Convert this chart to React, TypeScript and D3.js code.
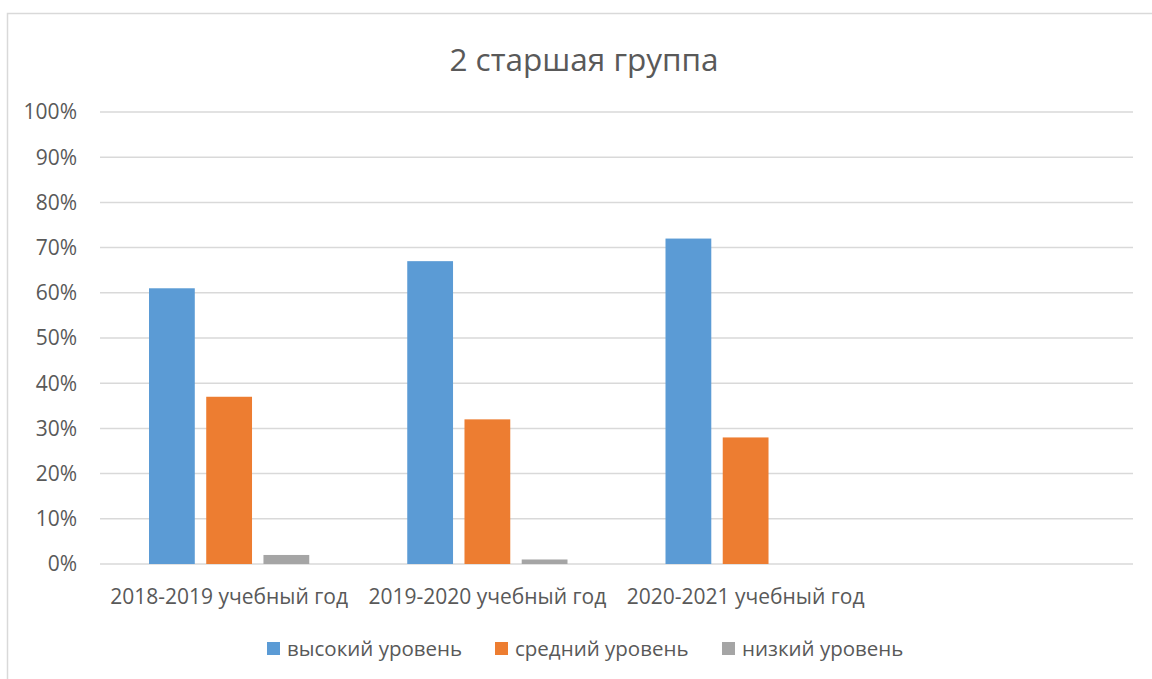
import React, { useEffect, useRef } from 'react';
import * as d3 from 'd3';

const categories = ['2018-2019 учебный год', '2019-2020 учебный год', '2020-2021 учебный год', ''];
const seriesNames = ['высокий уровень', 'средний уровень', 'низкий уровень'];
const highLevel = [61, 67, 72, null];
const midLevel = [37, 32, 28, null];
const lowLevel = [2, 1, 0, null];
const yTicks = [0, 10, 20, 30, 40, 50, 60, 70, 80, 90, 100];
const colors = ['#5b9bd5', '#ed7d31', '#a5a5a5'];

const App = () => {
  const svgRef = useRef<SVGSVGElement>(null);

  useEffect(() => {
    document.body.style.margin = '0';

    const width = 1152;
    const height = 679;
    const margin = { top: 112, right: 19, bottom: 115, left: 100 };
    const font = '"Open Sans", sans-serif';
    const textColor = '#595959';
    const gridColor = '#d9d9d9';

    const svg = d3.select(svgRef.current);
    svg.selectAll('*').remove();
    svg.attr('viewBox', [0, 0, width, height]);

    // chart frame
    svg.append('rect')
    .attr('x', 7.5)
    .attr('y', 13.5)
    .attr('width', width + 20)
    .attr('height', height + 20)
    .attr('fill', 'white')
    .attr('stroke', gridColor)
    .attr('stroke-width', 1.5);

    // title
    svg.append('text')
    .attr('x', 584)
    .attr('y', 71)
    .attr('text-anchor', 'middle')
    .attr('font-family', font)
    .attr('font-size', 31.5)
    .attr('fill', textColor)
    .text('2 старшая группа');

    const x0 = d3.scaleBand()
    .domain(categories.map((c, i) => String(i)))
    .range([margin.left, width - margin.right]);

    const inner = 49;
    const x1 = d3.scaleBand()
    .domain(seriesNames)
    .range([inner, x0.bandwidth() - inner])
    .paddingInner(0.2);

    const y = d3.scaleLinear()
    .domain([0, 100])
    .range([height - margin.bottom, margin.top]);

    // gridlines
    svg.append('g')
    .selectAll('line')
    .data(yTicks)
    .join('line')
    .attr('x1', margin.left)
    .attr('x2', width - margin.right)
    .attr('y1', d => y(d))
    .attr('y2', d => y(d))
    .attr('stroke', gridColor)
    .attr('stroke-width', 1.5);

    // y tick labels
    svg.append('g')
    .selectAll('text')
    .data(yTicks)
    .join('text')
    .attr('x', 77)
    .attr('y', d => y(d))
    .attr('dy', '0.35em')
    .attr('text-anchor', 'end')
    .attr('font-family', font)
    .attr('font-size', 21)
    .attr('fill', textColor)
    .text(d => `${d}%`);

    // bars
    const seriesData = [highLevel, midLevel, lowLevel];
    seriesNames.forEach((name, s) => {
      svg.append('g')
      .selectAll('rect')
      .data(seriesData[s].map((v, i) => ({ v, i })).filter(d => d.v !== null))
      .join('rect')
      .attr('x', d => x0(String(d.i)) + x1(name))
      .attr('width', x1.bandwidth())
      .attr('y', d => y(d.v))
      .attr('height', d => y(0) - y(d.v))
      .attr('fill', colors[s]);
    });

    // category labels
    svg.append('g')
    .selectAll('text')
    .data(categories)
    .join('text')
    .attr('x', (d, i) => x0(String(i)) + x0.bandwidth() / 2)
    .attr('y', 604)
    .attr('text-anchor', 'middle')
    .attr('font-family', font)
    .attr('font-size', 21)
    .attr('fill', textColor)
    .text(d => d);

    // legend
    const legendX = [267, 495, 722];
    const legend = svg.append('g')
    .selectAll('g')
    .data(seriesNames)
    .join('g')
    .attr('transform', (d, i) => `translate(${legendX[i]},642)`);

    legend.append('rect')
    .attr('width', 13)
    .attr('height', 13)
    .attr('fill', (d, i) => colors[i]);

    legend.append('text')
    .attr('x', 20)
    .attr('y', 14)
    .attr('font-family', font)
    .attr('font-size', 20.5)
    .attr('fill', textColor)
    .text(d => d);
  }, []);

  return (
    <svg ref={svgRef} width={1152} height={679} style={{ display: 'block' }}></svg>
  );
};

export default App;
